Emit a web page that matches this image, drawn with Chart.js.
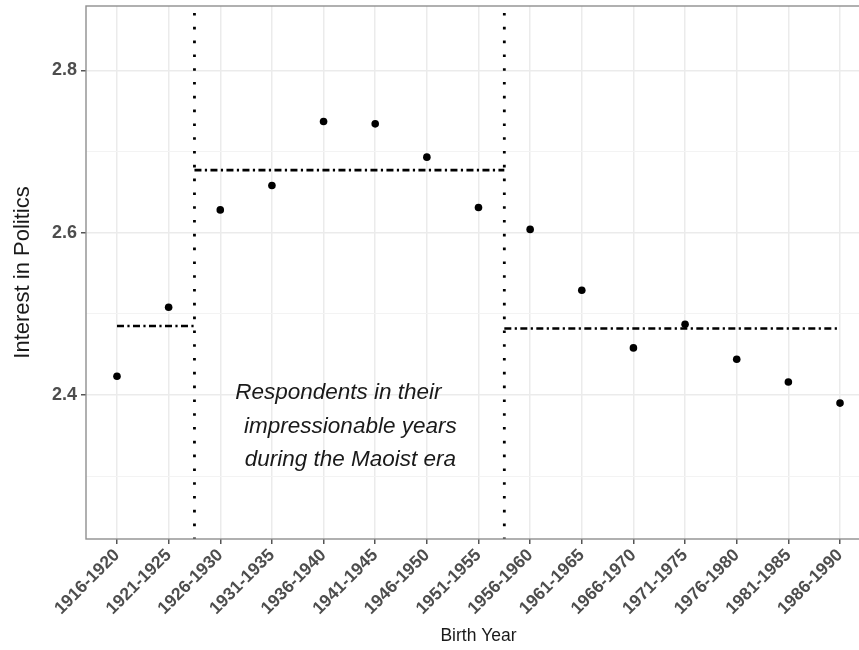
<!DOCTYPE html>
<html>
<head>
<meta charset="utf-8">
<script src="https://cdn.jsdelivr.net/npm/chart.js@4/dist/chart.umd.min.js"></script>
<style>
  html, body { margin: 0; padding: 0; background: #fff; overflow: hidden; }
  #wrap { width: 880px; height: 650px; }
</style>
</head>
<body>
<div id="wrap"><canvas id="c" width="880" height="650"></canvas></div>
<script>
// ---- data ----
const categories = ['1916-1920','1921-1925','1926-1930','1931-1935','1936-1940','1941-1945','1946-1950',
  '1951-1955','1956-1960','1961-1965','1966-1970','1971-1975','1976-1980','1981-1985','1986-1990'];
const interest = [2.423, 2.508, 2.628, 2.658, 2.737, 2.734, 2.693, 2.631, 2.604, 2.529, 2.458, 2.487, 2.444, 2.416, 2.390];
const periodMeans = [2.485, 2.677, 2.482];
const periodStarts = [0, 1.5, 7.5];
const periodEnds = [1.5, 7.5, 14];
const eraBounds = [1.5, 7.5];
const yTicks = [2.3, 2.4, 2.5, 2.6, 2.7, 2.8];
const yLabelled = [2.4, 2.6, 2.8];
const yMin = 2.2226, yMax = 2.8792;
const xMin = -0.6, xMax = 14.6;
const annotationLines = ['Respondents in their', 'impressionable years', 'during the Maoist era'];
const annotationAt = { x: 4.5, y: 2.353 };

// ---- datasets ----
const FONT = "'Liberation Sans', Arial, Helvetica, sans-serif";
const datasets = [];
datasets.push({
  type: 'scatter', label: 'Interest', order: 0,
  data: interest.map((v, i) => ({ x: i, y: v })),
  backgroundColor: '#000', borderColor: '#000', pointRadius: 3.8, pointHoverRadius: 3.8, borderWidth: 0
});
periodMeans.forEach((m, k) => {
  datasets.push({
    type: 'line', label: 'mean' + k, order: 2,
    data: [{ x: periodStarts[k], y: m }, { x: periodEnds[k], y: m }],
    borderColor: '#000', borderWidth: 2.6, borderDash: [7, 3.4, 2.2, 3.4], borderCapStyle: 'butt',
    pointRadius: 0, fill: false
  });
});
eraBounds.forEach((b, k) => {
  datasets.push({
    type: 'line', label: 'era' + k, order: 1,
    data: [{ x: b, y: yMax }, { x: b, y: yMin }],
    borderColor: '#000', borderWidth: 2.8, borderDash: [2.6, 11.2], borderDashOffset: 6.8, borderCapStyle: 'butt',
    pointRadius: 0, fill: false
  });
});

const panelPlugin = {
  id: 'panel',
  afterDatasetsDraw(chart) {
    const { ctx, chartArea: a, scales } = chart;
    ctx.save();
    ctx.font = "italic 22.5px " + FONT;
    ctx.fillStyle = '#1a1a1a';
    ctx.textAlign = 'center';
    ctx.textBaseline = 'alphabetic';
    const cx = scales.x.getPixelForValue(annotationAt.x);
    const cy = scales.y.getPixelForValue(annotationAt.y);
    const dys = [-34, 0, 33];
    const dxs = [-11, 1, 1];
    annotationLines.forEach((t, i) => ctx.fillText(t, cx + dxs[i], cy + dys[i]));
    ctx.strokeStyle = '#8f8f8f';
    ctx.lineWidth = 1.4;
    ctx.strokeRect(a.left, a.top, a.right - a.left, a.bottom - a.top);
    ctx.restore();
  }
};

new Chart(document.getElementById('c'), {
  type: 'scatter',
  data: { datasets },
  plugins: [panelPlugin],
  options: {
    responsive: false,
    animation: false,
    devicePixelRatio: 1,
    layout: { padding: { top: 6, right: 9, left: 0, bottom: 0 } },
    plugins: { legend: { display: false }, tooltip: { enabled: false } },
    scales: {
      x: {
        type: 'linear', min: xMin, max: xMax,
        afterBuildTicks(s) { s.ticks = categories.map((c, i) => ({ value: i })); },
        afterFit(s) { s.height = 111; s.paddingLeft = 0; s.paddingRight = 0; },
        border: { display: false },
        grid: { color: '#EBEBEB', lineWidth: 1.5, tickColor: '#555', tickLength: 5, drawTicks: true },
        ticks: {
          autoSkip: false, maxRotation: 45, minRotation: 45, padding: 1,
          color: '#4D4D4D', font: { family: FONT, size: 17.5, weight: 'bold' },
          callback: (v) => categories[v] ?? ''
        },
        title: { display: true, text: 'Birth Year', color: '#1a1a1a',
          font: { family: FONT, size: 17.5 }, padding: { top: 0, bottom: 3 } }
      },
      y: {
        type: 'linear', min: yMin, max: yMax,
        afterBuildTicks(s) { s.ticks = yTicks.map(v => ({ value: v })); },
        afterFit(s) { s.width = 86; s.paddingTop = 0; s.paddingBottom = 0; },
        border: { display: false },
        grid: {
          color: (c) => yLabelled.some(v => Math.abs(v - c.tick.value) < 1e-6) ? '#EBEBEB' : '#F3F3F3',
          lineWidth: (c) => yLabelled.some(v => Math.abs(v - c.tick.value) < 1e-6) ? 1.5 : 1,
          tickColor: (c) => yLabelled.some(v => Math.abs(v - c.tick.value) < 1e-6) ? '#555' : 'rgba(0,0,0,0)',
          tickLength: 5
        },
        ticks: {
          padding: 4, color: '#4D4D4D', font: { family: FONT, size: 18, weight: 'bold' },
          callback: (v) => yLabelled.some(t => Math.abs(t - v) < 1e-6) ? v.toFixed(1) : ''
        },
        title: { display: true, text: 'Interest in Politics', color: '#1a1a1a',
          font: { family: FONT, size: 22 }, padding: { top: 10, bottom: 0 } }
      }
    }
  }
});
</script>
</body>
</html>
